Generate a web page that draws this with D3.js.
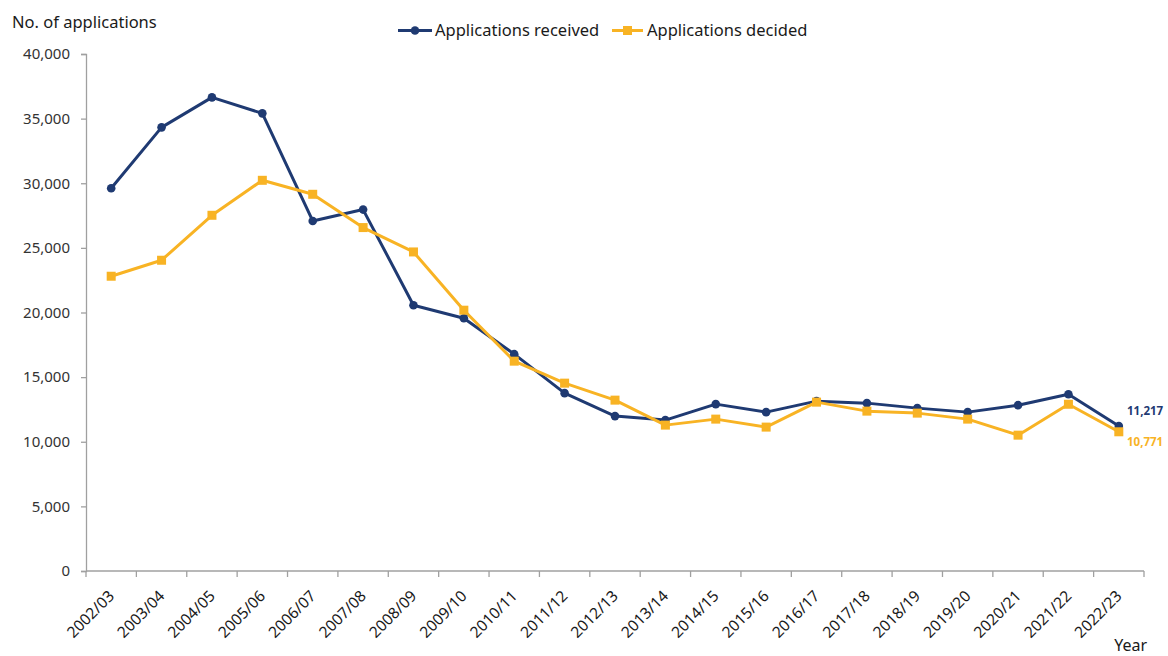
<!DOCTYPE html>
<html>
<head>
<meta charset="utf-8">
<script src="https://cdn.jsdelivr.net/npm/d3@7"></script>
<style>
  html, body { margin: 0; padding: 0; background: #fff; }
  svg { display: block; font-family: "Noto Sans", "Open Sans", sans-serif; }
</style>
</head>
<body>
<svg id="chart" width="1168" height="656"></svg>
<script>
const categories = ["2002/03","2003/04","2004/05","2005/06","2006/07","2007/08","2008/09","2009/10","2010/11","2011/12","2012/13","2013/14","2014/15","2015/16","2016/17","2017/18","2018/19","2019/20","2020/21","2021/22","2022/23"];
const received = [29610,34325,36645,35408,27082,27963,20564,19560,16776,13761,11983,11674,12911,12292,13143,12988,12601,12292,12830,13680,11217];
const decided  = [22806,24043,27522,30228,29146,26571,24685,20178,16235,14534,13220,11287,11751,11133,13065,12369,12215,11751,10510,12900,10771];
const yTicks = [0,5000,10000,15000,20000,25000,30000,35000,40000];
const seriesNames = ["Applications received","Applications decided"];
const colors = ["#1F3A72","#F8B324"];

const svg = d3.select("#chart");
const pLeft = 86, pRight = 1144, pTop = 54, pBottom = 571;

const x = d3.scaleBand().domain(categories).range([pLeft, pRight]).padding(0);
const y = d3.scaleLinear().domain([0, 40000]).range([pBottom, pTop]);
const fmt = d3.format(",");

// Y axis
const yAxis = svg.append("g").attr("transform", `translate(${pLeft},0)`)
  .call(d3.axisLeft(y).tickValues(yTicks).tickFormat(fmt).tickSize(5).tickPadding(11));
yAxis.select(".domain").attr("stroke", "#A0A0A0").attr("stroke-width", 1.3);
yAxis.selectAll(".tick line").attr("stroke", "#A0A0A0").attr("stroke-width", 1.3);
yAxis.selectAll(".tick text").attr("fill", "#333").style("font-size", "15px").style("font-family", "'Noto Sans', sans-serif");

// X axis (ticks at band boundaries)
const xAxisG = svg.append("g").attr("transform", `translate(0,${pBottom})`);
xAxisG.append("line").attr("x1", pLeft).attr("x2", pRight).attr("y1", 0).attr("y2", 0)
  .attr("stroke", "#A0A0A0").attr("stroke-width", 1.3);
const boundaries = categories.map(c => x(c)).concat([pRight]);
xAxisG.selectAll("line.tk").data(boundaries).enter().append("line").attr("class","tk")
  .attr("x1", d => d).attr("x2", d => d).attr("y1", 0).attr("y2", 6)
  .attr("stroke", "#A0A0A0").attr("stroke-width", 1.3);
xAxisG.selectAll("text").data(categories).enter().append("text")
  .attr("transform", d => `translate(${x(d) + x.bandwidth()/2 + 4},${26}) rotate(-45)`)
  .attr("text-anchor", "end")
  .attr("fill", "#1a1a1a")
  .style("font-size", "15.5px")
  .text(d => d);

// Axis titles
svg.append("text").attr("x", 12).attr("y", 28).attr("fill", "#1a1a1a").style("font-size", "16.5px").text("No. of applications");
svg.append("text").attr("x", 1147).attr("y", 651).attr("text-anchor", "end").attr("fill", "#1a1a1a").style("font-size", "16px").text("Year");

// Lines
const cx = d => x(d) + x.bandwidth()/2;
const line = d3.line().x((d, i) => cx(categories[i])).y(d => y(d));
[received, decided].forEach((data, k) => {
  svg.append("path").datum(data).attr("d", line).attr("fill", "none")
    .attr("stroke", colors[k]).attr("stroke-width", 3).attr("stroke-linejoin", "round");
});
// Markers
svg.append("g").selectAll("circle").data(received).enter().append("circle")
  .attr("cx", (d, i) => cx(categories[i])).attr("cy", d => y(d)).attr("r", 4.3).attr("fill", colors[0]);
svg.append("g").selectAll("rect").data(decided).enter().append("rect")
  .attr("x", (d, i) => cx(categories[i]) - 4.5).attr("y", d => y(d) - 4.5)
  .attr("width", 9).attr("height", 9).attr("fill", colors[1]);

// End labels
const last = categories.length - 1;
svg.append("text").attr("x", 1127).attr("y", y(received[last]) - 15).attr("dy", "0.35em")
  .attr("fill", colors[0]).style("font-size", "11.5px").style("font-weight", "bold").text(fmt(received[last]));
svg.append("text").attr("x", 1127).attr("y", y(decided[last]) + 10).attr("dy", "0.35em")
  .attr("fill", colors[1]).style("font-size", "11.5px").style("font-weight", "bold").text(fmt(decided[last]));

// Legend
const legend = [
  {x1: 398, x2: 432, tx: 435, kind: "circle"},
  {x1: 612, x2: 643, tx: 647, kind: "rect"}
];
legend.forEach((l, k) => {
  const g = svg.append("g");
  const ly = 30.5;
  g.append("line").attr("x1", l.x1).attr("x2", l.x2).attr("y1", ly).attr("y2", ly)
    .attr("stroke", colors[k]).attr("stroke-width", 3);
  const mx = (l.x1 + l.x2) / 2;
  if (l.kind === "circle") g.append("circle").attr("cx", mx).attr("cy", ly).attr("r", 4.3).attr("fill", colors[k]);
  else g.append("rect").attr("x", mx - 4.5).attr("y", ly - 4.5).attr("width", 9).attr("height", 9).attr("fill", colors[k]);
  g.append("text").attr("x", l.tx).attr("y", ly).attr("dy", "0.35em").attr("fill", "#1a1a1a")
    .style("font-size", "16.5px").text(seriesNames[k]);
});
</script>
</body>
</html>
